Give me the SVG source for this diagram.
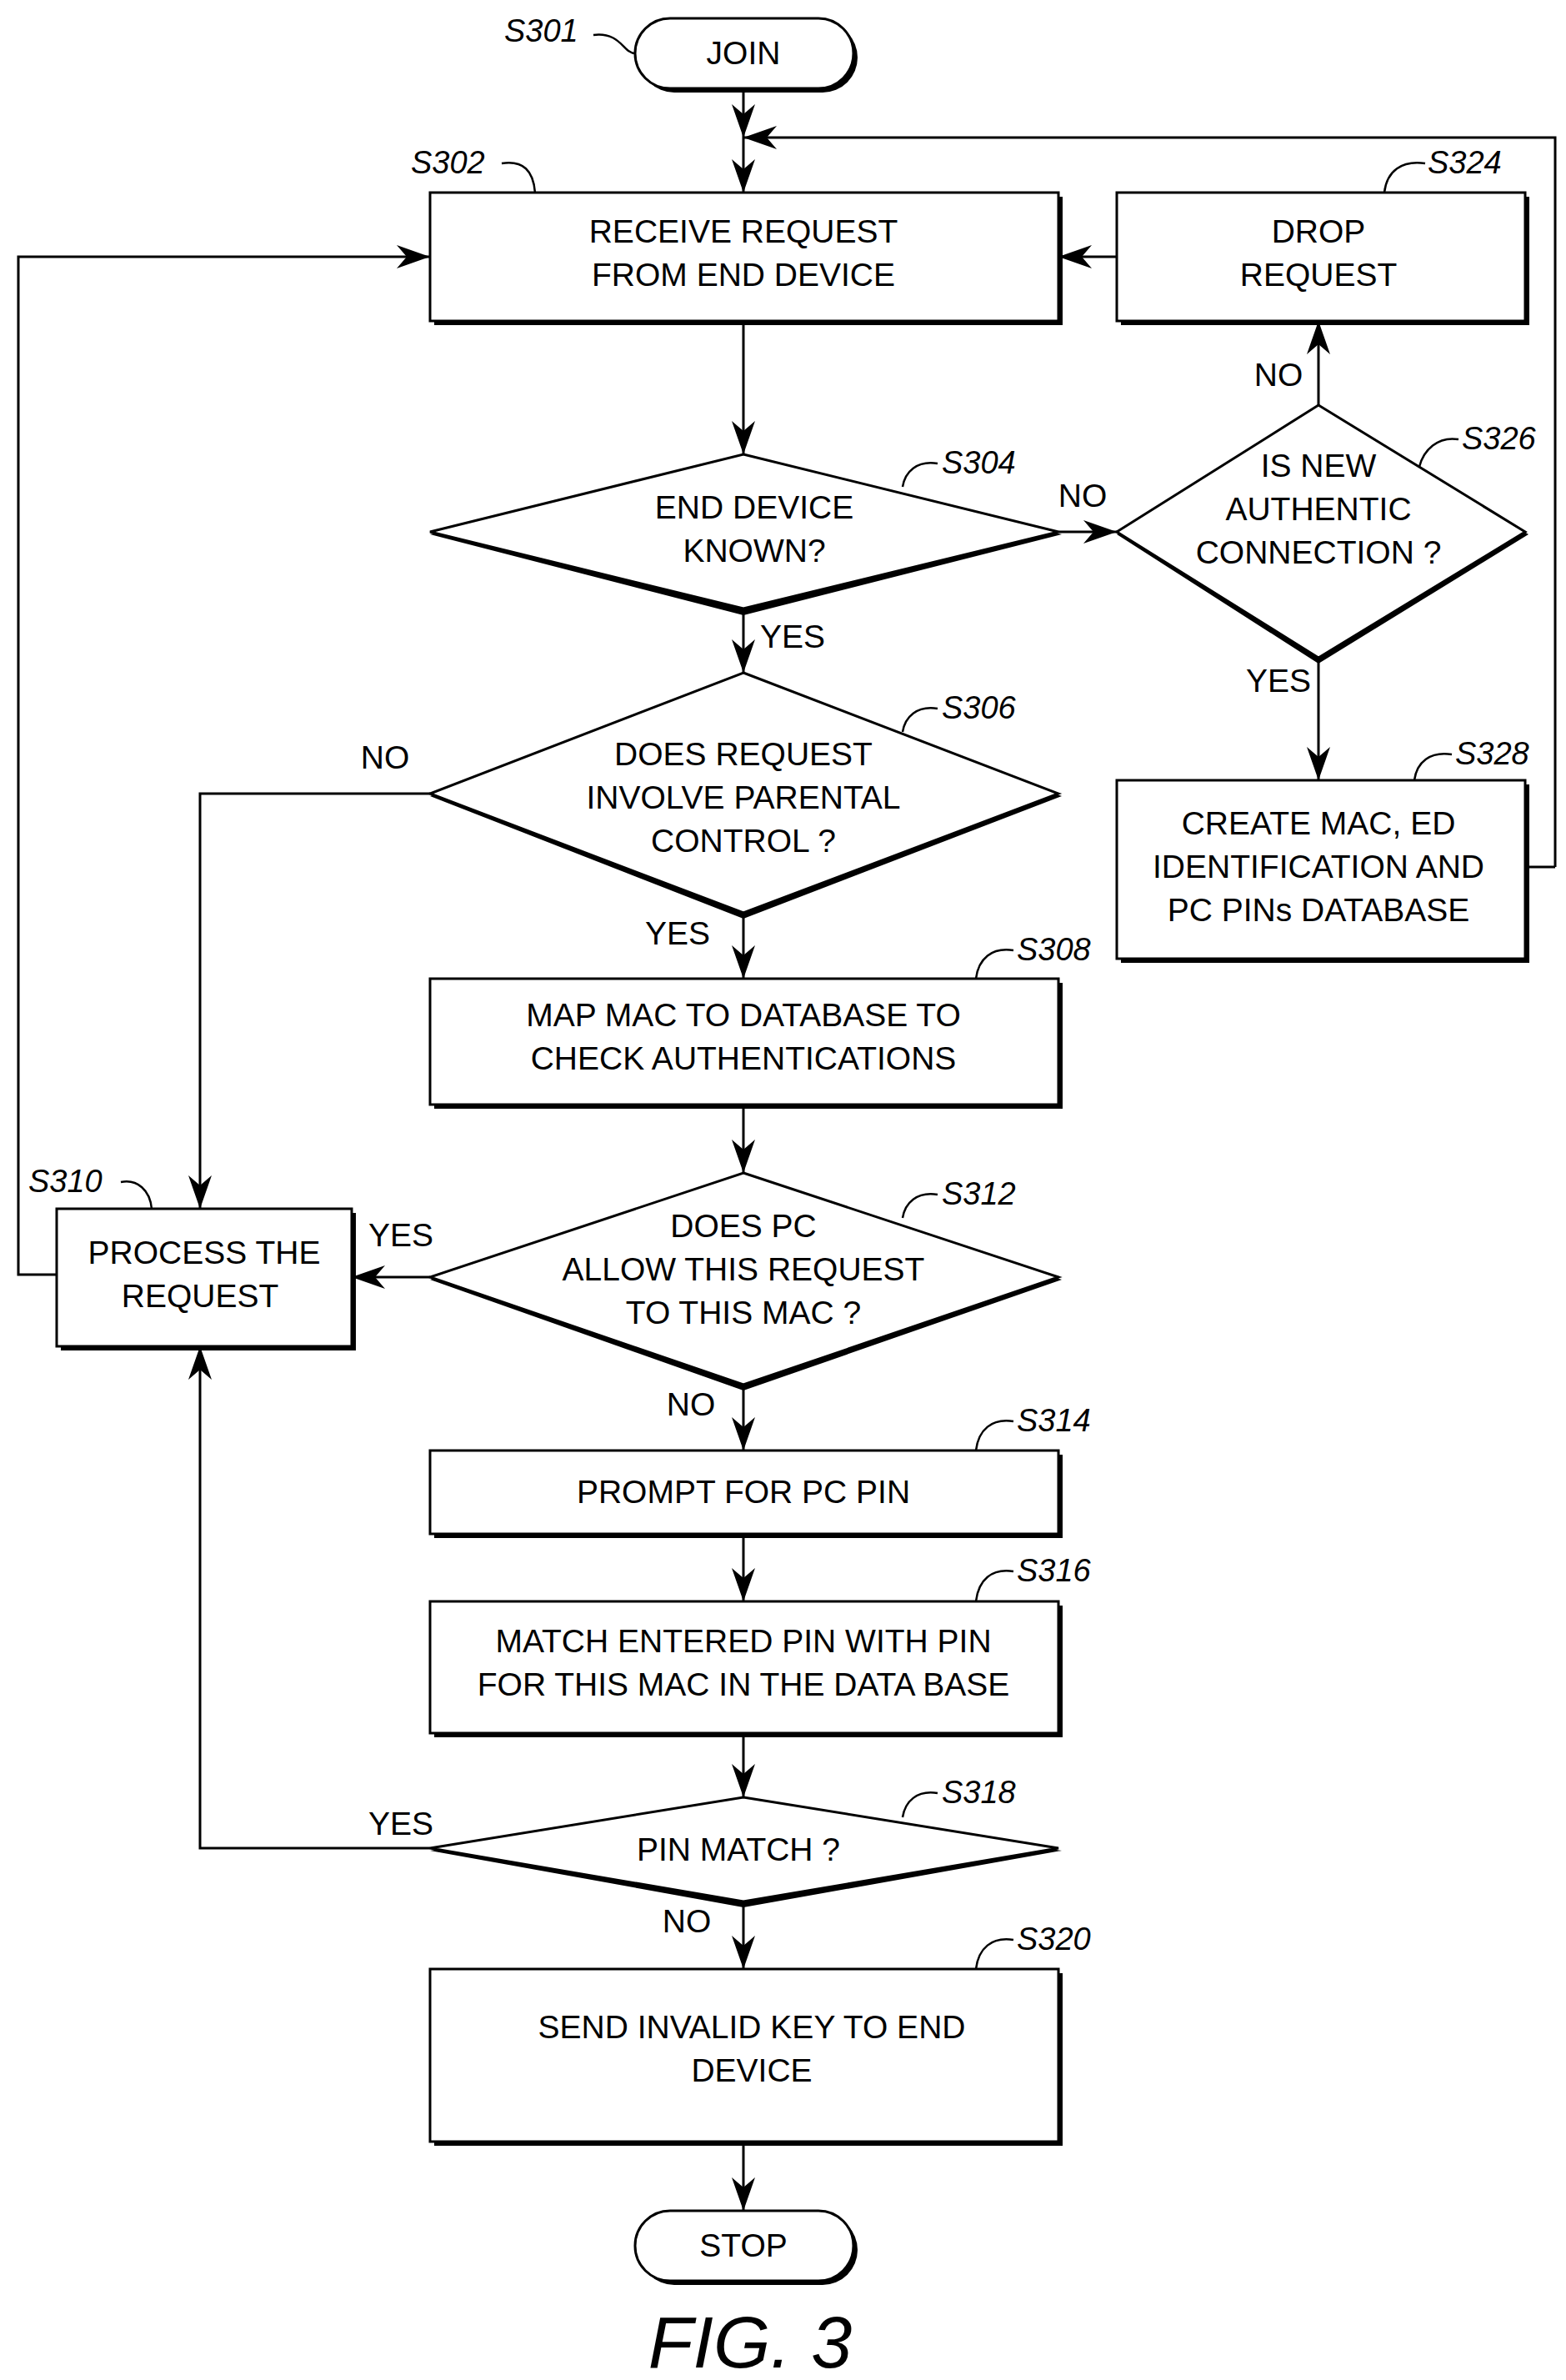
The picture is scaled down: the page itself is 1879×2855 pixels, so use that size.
<svg xmlns="http://www.w3.org/2000/svg" width="1879" height="2855" viewBox="0 0 1879 2855">
<defs>
<marker id="a" viewBox="0 0 10 10" refX="10" refY="5" markerWidth="40" markerHeight="40" markerUnits="userSpaceOnUse" orient="auto"><path d="M0,1.5 L10,5 L0,8.5 L3,5 Z" fill="#000"/></marker>
</defs>
<style>
.s{fill:#000}
.b{fill:#fff;stroke:#000;stroke-width:3}
.t{font-family:"Liberation Sans",Arial,sans-serif;font-size:39px;fill:#000;text-anchor:middle}
.l{font-family:"Liberation Sans",Arial,sans-serif;font-size:38px;font-style:italic;fill:#000}
.c{fill:none;stroke:#000;stroke-width:3}
.ld{fill:none;stroke:#000;stroke-width:2.5}
</style>
<rect width="1879" height="2855" fill="#fff"/>
<g id="connectors">
<path class="c" d="M892,106 V165" marker-end="url(#a)"/>
<path class="c" d="M892,165 V231" marker-end="url(#a)"/>
<path class="c" d="M1866,1040 H1830 M1866,1040 V165 H892" marker-end="url(#a)"/>
<path class="c" d="M1340,308 H1270" marker-end="url(#a)"/>
<path class="c" d="M892,385 V545" marker-end="url(#a)"/>
<path class="c" d="M1270,638 H1340" marker-end="url(#a)"/>
<path class="c" d="M1582,486 V385" marker-end="url(#a)"/>
<path class="c" d="M1582,789 V936" marker-end="url(#a)"/>
<path class="c" d="M892,730 V807" marker-end="url(#a)"/>
<path class="c" d="M516,952 H240 V1450" marker-end="url(#a)"/>
<path class="c" d="M892,1095 V1174" marker-end="url(#a)"/>
<path class="c" d="M892,1325 V1407" marker-end="url(#a)"/>
<path class="c" d="M516,1532 H422" marker-end="url(#a)"/>
<path class="c" d="M68,1529 H22 V308 H516" marker-end="url(#a)"/>
<path class="c" d="M892,1661 V1740" marker-end="url(#a)"/>
<path class="c" d="M892,1840 V1921" marker-end="url(#a)"/>
<path class="c" d="M892,2079 V2156" marker-end="url(#a)"/>
<path class="c" d="M516,2217 H240 V1615" marker-end="url(#a)"/>
<path class="c" d="M892,2281 V2362" marker-end="url(#a)"/>
<path class="c" d="M892,2569 V2652" marker-end="url(#a)"/>
<text class="t" x="1299" y="608">NO</text>
<text class="t" x="951" y="777">YES</text>
<text class="t" x="462" y="922">NO</text>
<text class="t" x="813" y="1133">YES</text>
<text class="t" x="1534" y="463">NO</text>
<text class="t" x="1534" y="830">YES</text>
<text class="t" x="481" y="1495">YES</text>
<text class="t" x="829" y="1698">NO</text>
<text class="t" x="481" y="2201">YES</text>
<text class="t" x="824" y="2318">NO</text>
</g>
<g id="S301">
<rect class="s" x="767" y="27" width="262" height="84" rx="42"/>
<rect class="b" x="762" y="22" width="262" height="84" rx="42"/>
<text class="t" x="892" y="77">JOIN</text>
<text class="l" x="605" y="50">S301</text>
<path class="ld" d="M712,42 C745,38 748,64 762,64"/>
</g>
<g id="S302">
<rect class="s" x="521" y="236" width="754" height="154"/>
<rect class="b" x="516" y="231" width="754" height="154"/>
<text class="t" x="892" y="291">RECEIVE REQUEST</text>
<text class="t" x="892" y="343">FROM END DEVICE</text>
<text class="l" x="493" y="208">S302</text>
<path class="ld" d="M602,196 C628,192 640,205 642,231"/>
</g>
<g id="S324">
<rect class="s" x="1345" y="236" width="490" height="154"/>
<rect class="b" x="1340" y="231" width="490" height="154"/>
<text class="t" x="1582" y="291">DROP</text>
<text class="t" x="1582" y="343">REQUEST</text>
<text class="l" x="1713" y="208">S324</text>
<path class="ld" d="M1710,196 C1682,192 1664,205 1661,231"/>
</g>
<g id="S304">
<polygon class="s" points="892,551 1274,641 892,738 516,641"/>
<polygon class="b" points="892,545 1270,638 892,730 516,638"/>
<text class="t" x="905" y="622">END DEVICE</text>
<text class="t" x="905" y="674">KNOWN?</text>
<text class="l" x="1130" y="568">S304</text>
<path class="ld" d="M1125,556 C1100,552 1086,566 1083,584"/>
</g>
<g id="S326">
<polygon class="s" points="1582,492 1834,641 1582,796 1340,641"/>
<polygon class="b" points="1582,486 1830,638 1582,789 1340,638"/>
<text class="t" x="1582" y="572">IS NEW</text>
<text class="t" x="1582" y="624">AUTHENTIC</text>
<text class="t" x="1582" y="676">CONNECTION ?</text>
<text class="l" x="1754" y="539">S326</text>
<path class="ld" d="M1750,527 C1725,523 1708,540 1703,560"/>
</g>
<g id="S306">
<polygon class="s" points="892,813 1274,955 892,1102 516,955"/>
<polygon class="b" points="892,807 1270,952 892,1095 516,952"/>
<text class="t" x="892" y="918">DOES REQUEST</text>
<text class="t" x="892" y="970">INVOLVE PARENTAL</text>
<text class="t" x="892" y="1022">CONTROL ?</text>
<text class="l" x="1130" y="862">S306</text>
<path class="ld" d="M1125,850 C1100,846 1086,860 1083,878"/>
</g>
<g id="S328">
<rect class="s" x="1345" y="941" width="490" height="214"/>
<rect class="b" x="1340" y="936" width="490" height="214"/>
<text class="t" x="1582" y="1001">CREATE MAC, ED</text>
<text class="t" x="1582" y="1053">IDENTIFICATION AND</text>
<text class="t" x="1582" y="1105">PC PINs DATABASE</text>
<text class="l" x="1746" y="917">S328</text>
<path class="ld" d="M1742,905 C1716,901 1700,914 1697,936"/>
</g>
<g id="S308">
<rect class="s" x="521" y="1179" width="754" height="151"/>
<rect class="b" x="516" y="1174" width="754" height="151"/>
<text class="t" x="892" y="1231">MAP MAC TO DATABASE TO</text>
<text class="t" x="892" y="1283">CHECK AUTHENTICATIONS</text>
<text class="l" x="1220" y="1152">S308</text>
<path class="ld" d="M1216,1140 C1190,1136 1174,1150 1171,1174"/>
</g>
<g id="S310">
<rect class="s" x="73" y="1455" width="354" height="165"/>
<rect class="b" x="68" y="1450" width="354" height="165"/>
<text class="t" x="245" y="1516">PROCESS THE</text>
<text class="t" x="240" y="1568">REQUEST</text>
<text class="l" x="34" y="1430">S310</text>
<path class="ld" d="M145,1418 C165,1414 180,1428 182,1450"/>
</g>
<g id="S312">
<polygon class="s" points="892,1413 1274,1535 892,1668 516,1535"/>
<polygon class="b" points="892,1407 1270,1532 892,1661 516,1532"/>
<text class="t" x="892" y="1484">DOES PC</text>
<text class="t" x="892" y="1536">ALLOW THIS REQUEST</text>
<text class="t" x="892" y="1588">TO THIS MAC ?</text>
<text class="l" x="1130" y="1445">S312</text>
<path class="ld" d="M1125,1433 C1100,1429 1086,1443 1083,1461"/>
</g>
<g id="S314">
<rect class="s" x="521" y="1745" width="754" height="100"/>
<rect class="b" x="516" y="1740" width="754" height="100"/>
<text class="t" x="892" y="1803">PROMPT FOR PC PIN</text>
<text class="l" x="1220" y="1717">S314</text>
<path class="ld" d="M1216,1705 C1190,1701 1174,1715 1171,1740"/>
</g>
<g id="S316">
<rect class="s" x="521" y="1926" width="754" height="158"/>
<rect class="b" x="516" y="1921" width="754" height="158"/>
<text class="t" x="892" y="1982">MATCH ENTERED PIN WITH PIN</text>
<text class="t" x="892" y="2034">FOR THIS MAC IN THE DATA BASE</text>
<text class="l" x="1220" y="1897">S316</text>
<path class="ld" d="M1216,1885 C1190,1881 1174,1895 1171,1921"/>
</g>
<g id="S318">
<polygon class="s" points="892,2162 1274,2220 892,2288 516,2220"/>
<polygon class="b" points="892,2156 1270,2217 892,2281 516,2217"/>
<text class="t" x="886" y="2232">PIN MATCH ?</text>
<text class="l" x="1130" y="2163">S318</text>
<path class="ld" d="M1125,2151 C1100,2147 1086,2161 1083,2180"/>
</g>
<g id="S320">
<rect class="s" x="521" y="2367" width="754" height="207"/>
<rect class="b" x="516" y="2362" width="754" height="207"/>
<text class="t" x="902" y="2445">SEND INVALID KEY TO END</text>
<text class="t" x="902" y="2497">DEVICE</text>
<text class="l" x="1220" y="2339">S320</text>
<path class="ld" d="M1216,2327 C1190,2323 1174,2337 1171,2362"/>
</g>
<g id="STOP">
<rect class="s" x="767" y="2657" width="262" height="84" rx="42"/>
<rect class="b" x="762" y="2652" width="262" height="84" rx="42"/>
<text class="t" x="892" y="2707">STOP</text>
</g>
<text x="900" y="2840" font-family="Liberation Sans,Arial,sans-serif" font-size="88" font-style="italic" text-anchor="middle">FIG. 3</text>
</svg>
